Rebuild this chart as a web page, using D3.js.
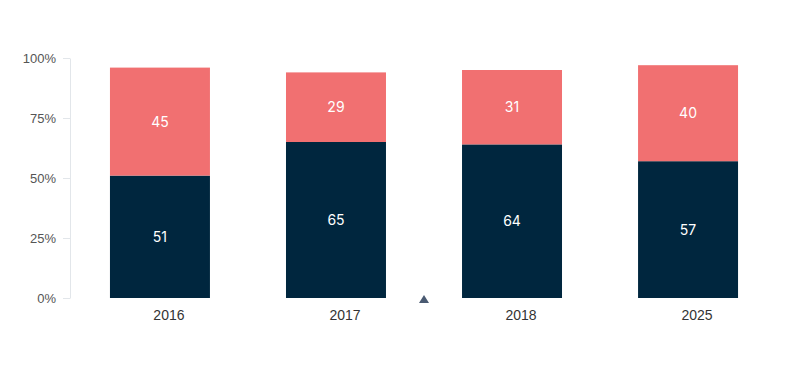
<!DOCTYPE html>
<html>
<head>
    <meta charset="utf-8">
    <style>
        body { margin: 0; background: #fff; font-family: Inter, 'Noto Sans', sans-serif; }
        .y .domain { stroke: #e2e6ea; }
        .y .tick line { stroke: #e2e6ea; }
        .y .tick text { font-size: 13px; fill: #555; }
        .x .tick text { font-size: 14px; fill: #333; }
        .val { font-size: 14px; fill: #fff; }
    </style>
</head>
<body>
<svg width="800" height="372"></svg>
<script src="https://d3js.org/d3.v7.min.js"></script>
<script>
    let years = ["2016", "2017", "2018", "2025"];
    let lower = [51, 65, 64, 57];
    let upper = [45, 29, 31, 40];
    let yTicks = [0, 25, 50, 75, 100];

    let colors = ["#00263e", "#f17071"];

    let margin = { top: 58, left: 70, bottom: 74, right: 22 };
    let width = 800, height = 372;

    let svg = d3.select("svg");

    let x = d3.scaleBand()
        .domain(years)
        .range([margin.left, width - margin.right])
        .paddingInner(0.432)
        .paddingOuter(0.227);

    let y = d3.scaleLinear()
        .domain([0, 100])
        .range([height - margin.bottom, margin.top]);

    let data = years.map((yr, i) => ({ year: yr, lower: lower[i], upper: upper[i] }));
    let series = d3.stack().keys(["lower", "upper"])(data);

    svg.append("g")
        .attr("class", "y axis")
        .attr("transform", `translate(${margin.left},0)`)
        .call(d3.axisLeft(y).tickValues(yTicks).tickSize(7).tickSizeOuter(0).tickPadding(7).tickFormat(d => d + "%"));

    let groups = svg.append("g")
        .selectAll("g")
        .data(series)
        .join("g")
        .attr("fill", (d, i) => colors[i]);

    groups.selectAll("rect")
        .data(d => d)
        .join("rect")
        .attr("x", d => x(d.data.year))
        .attr("y", d => y(d[1]))
        .attr("width", x.bandwidth())
        .attr("height", d => y(d[0]) - y(d[1]));

    groups.selectAll("text")
        .data(d => d)
        .join("text")
        .attr("class", "val")
        .attr("x", d => x(d.data.year) + x.bandwidth() / 2)
        .attr("y", d => (y(d[0]) + y(d[1])) / 2)
        .attr("text-anchor", "middle")
        .attr("dy", "0.35em")
        .text(d => d[1] - d[0]);

    // year labels, shifted a little right as in the original
    svg.append("g")
        .attr("class", "x axis")
        .attr("transform", `translate(9,${height - margin.bottom})`)
        .call(d3.axisBottom(x).tickSize(0).tickPadding(12))
        .call(g => g.select(".domain").remove());

    // small marker between 2017 and 2018
    let mx = (x("2017") + x.bandwidth() + x("2018")) / 2;
    let my = y(0);
    svg.append("path")
        .attr("d", `M${mx},${my - 3} L${mx + 5},${my + 5} L${mx - 5},${my + 5} Z`)
        .attr("fill", "#4a5a72");
</script>
</body>
</html>
